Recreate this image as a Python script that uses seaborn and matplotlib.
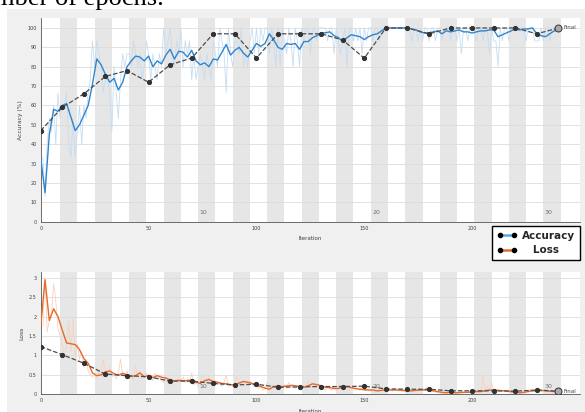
import numpy as np
import matplotlib
matplotlib.use("Agg")
import matplotlib.pyplot as plt
from matplotlib.patches import Rectangle
from matplotlib.lines import Line2D
import seaborn as sns

sns.set_style("white")

# ---- data ----
BATCH = 15
ITERS_PER_EPOCH = 8
N_EPOCHS = 30

# raw mini-batch accuracy, correct out of 15, iterations 1..240
acc_correct = [
    5, 2, 6, 8, 7, 9, 6, 10, 8, 9,
    9, 10, 6, 5, 8, 5, 7, 9, 6, 9,
    8, 10, 11, 14, 12, 14, 13, 12, 10, 11,
    11, 10, 7, 12, 10, 8, 11, 13, 12, 13,
    13, 12, 14, 13, 12, 13, 11, 12, 14, 13,
    11, 13, 12, 11, 13, 12, 15, 13, 14, 15,
    13, 12, 14, 13, 15, 12, 14, 13, 14, 11,
    13, 11, 12, 13, 12, 11, 13, 12, 11, 14,
    13, 12, 15, 14, 13, 10, 15, 13, 12, 14,
    14, 13, 15, 12, 13, 12, 14, 15, 13, 15,
    13, 15, 14, 15, 15, 13, 15, 14, 12, 15,
    12, 15, 14, 13, 15, 14, 12, 15, 14, 12,
    15, 14, 15, 15, 13, 15, 15, 14, 15, 15,
    15, 15, 14, 15, 15, 13, 15, 14, 13, 14,
    15, 12, 15, 15, 14, 15, 14, 15, 13, 15,
    14, 15, 15, 14, 15, 15, 14, 15, 15, 15,
    15, 15, 15, 15, 15, 15, 15, 15, 15, 15,
    15, 14, 15, 15, 14, 15, 14, 15, 15, 14,
    15, 15, 14, 15, 15, 14, 15, 15, 15, 14,
    15, 15, 14, 15, 13, 15, 15, 14, 15, 15,
    15, 14, 15, 15, 14, 15, 15, 13, 15, 14,
    14, 12, 15, 14, 15, 15, 14, 15, 15, 15,
    15, 15, 15, 15, 14, 15, 15, 15, 14, 14,
    14, 15, 14, 15, 15, 14, 15, 15, 15, 15,
]

# smoothed accuracy, every 2 iterations 0..240
acc_smooth = [
    33, 15, 45, 58, 57, 60, 61, 54, 47, 50,
    55, 60, 71, 84, 81, 76, 72, 74, 68, 72,
    80, 83, 85.5, 85, 83, 85.5, 80, 83, 81.5, 86,
    89, 84, 88, 87.5, 85, 88.5, 83, 81, 82, 80,
    84, 83.5, 87.5, 91.5, 86, 88.5, 90, 87, 85, 88.5,
    92, 90.5, 92, 97, 94, 90, 89, 92, 91.5, 92,
    89, 93, 93, 95, 96, 97.5, 97.5, 98, 96, 95,
    93, 95, 96.5, 96, 95.5, 94, 95.5, 96.5, 97, 98.5,
    100, 100, 100, 100, 100, 100, 99.5, 99, 98, 97.4,
    97.5, 98, 98.5, 97, 98.5, 98, 98.5, 99, 98, 98,
    97.4, 98, 98.5, 98.5, 99, 99, 95.5, 96.5, 97.5, 98.5,
    99.5, 99, 99.5, 99.5, 100, 97, 96, 95.5, 97, 98.5,
    99,
]

# validation accuracy every 10 iterations 0..240
acc_val = [47, 59, 66, 75, 78, 72, 81, 84.5, 97, 97,
           84.5, 97, 97, 97, 93.8, 84.4, 100, 100, 97, 100,
           100, 100, 100, 97, 100]

# raw mini-batch loss, iterations 1..240
loss_raw = [
    1.75, 3.0, 1.6, 1.9, 2.1, 2.85, 2.4, 1.7, 1.5, 1.3,
    1.0, 1.2, 1.9, 1.1, 1.95, 1.0, 1.3, 0.9, 1.1, 0.7,
    0.9, 0.6, 0.5, 0.45, 0.5, 0.4, 0.6, 0.5, 0.9, 0.6,
    0.5, 0.7, 0.45, 0.5, 0.4, 0.55, 0.9, 0.5, 0.45, 0.6,
    0.4, 0.5, 0.35, 0.75, 0.45, 0.6, 0.4, 0.5, 0.55, 0.4,
    0.45, 0.35, 0.55, 0.4, 0.45, 0.35, 0.3, 0.45, 0.25, 0.4,
    0.3, 0.35, 0.4, 0.3, 0.35, 0.45, 0.3, 0.4, 0.3, 0.55,
    0.25, 0.3, 0.2, 0.35, 0.5, 0.4, 0.3, 0.45, 0.25, 0.3,
    0.35, 0.25, 0.3, 0.2, 0.3, 0.5, 0.2, 0.25, 0.2, 0.3,
    0.45, 0.3, 0.25, 0.35, 0.3, 0.2, 0.35, 0.25, 0.2, 0.3,
    0.15, 0.2, 0.1, 0.15, 0.3, 0.1, 0.25, 0.2, 0.15, 0.25,
    0.2, 0.15, 0.25, 0.2, 0.3, 0.2, 0.25, 0.15, 0.2, 0.15,
    0.2, 0.25, 0.15, 0.35, 0.3, 0.2, 0.25, 0.2, 0.15, 0.2,
    0.15, 0.1, 0.2, 0.15, 0.1, 0.2, 0.1, 0.15, 0.25, 0.15,
    0.2, 0.15, 0.1, 0.2, 0.15, 0.1, 0.15, 0.1, 0.2, 0.1,
    0.1, 0.15, 0.08, 0.1, 0.06, 0.12, 0.08, 0.15, 0.1, 0.12,
    0.1, 0.12, 0.08, 0.15, 0.1, 0.08, 0.12, 0.06, 0.1, 0.08,
    0.12, 0.08, 0.15, 0.1, 0.12, 0.08, 0.14, 0.1, 0.12, 0.08,
    0.06, 0.08, 0.05, 0.04, 0.06, 0.03, 0.05, 0.04, 0.06, 0.03,
    0.05, 0.04, 0.03, 0.06, 0.04, 0.05, 0.07, 0.04, 0.06, 0.08,
    0.05, 0.1, 0.06, 0.08, 0.46, 0.1, 0.2, 0.08, 0.3, 0.1,
    0.08, 0.12, 0.07, 0.1, 0.06, 0.08, 0.05, 0.04, 0.06, 0.04,
    0.03, 0.05, 0.04, 0.07, 0.1, 0.08, 0.12, 0.06, 0.1, 0.08,
    0.12, 0.08, 0.1, 0.07, 0.09, 0.06, 0.08, 0.07, 0.06, 0.07,
]

# smoothed loss, every 2 iterations 0..240
loss_smooth = [
    1.75, 2.95, 1.9, 2.2, 2.0, 1.65, 1.32, 1.3, 1.28, 1.15,
    0.92, 0.8, 0.55, 0.48, 0.5, 0.58, 0.6, 0.53, 0.49, 0.54,
    0.5, 0.46, 0.48, 0.55, 0.45, 0.49, 0.43, 0.48, 0.44, 0.42,
    0.37, 0.34, 0.36, 0.35, 0.35, 0.37, 0.31, 0.28, 0.35, 0.38,
    0.33, 0.31, 0.28, 0.27, 0.25, 0.24, 0.29, 0.33, 0.31, 0.28,
    0.24, 0.2, 0.16, 0.13, 0.2, 0.21, 0.2, 0.21, 0.23, 0.22,
    0.2, 0.18, 0.22, 0.27, 0.25, 0.22, 0.18, 0.17, 0.15, 0.15,
    0.18, 0.2, 0.17, 0.15, 0.13, 0.12, 0.11, 0.11, 0.09, 0.1,
    0.12, 0.11, 0.11, 0.11, 0.1, 0.09, 0.09, 0.1, 0.11, 0.11,
    0.11, 0.09, 0.07, 0.05, 0.04, 0.05, 0.04, 0.04, 0.05, 0.05,
    0.06, 0.07, 0.07, 0.09, 0.11, 0.11, 0.1, 0.09, 0.09, 0.07,
    0.05, 0.04, 0.05, 0.07, 0.09, 0.09, 0.1, 0.09, 0.08, 0.07,
    0.07,
]

# validation loss every 10 iterations 0..240
loss_val = [1.23, 1.02, 0.8, 0.52, 0.48, 0.45, 0.34, 0.34, 0.28, 0.24,
            0.26, 0.18, 0.19, 0.2, 0.2, 0.21, 0.14, 0.13, 0.13, 0.09,
            0.09, 0.09, 0.08, 0.11, 0.08]

raw_it = np.arange(1, 241)
smooth_it = np.arange(0, 241, 2)
val_it = np.arange(0, 241, 10)
acc_raw = np.array(acc_correct) / BATCH * 100

BLUE = "#2f86cf"
BLUE_L = "#c6ddf1"
ORANGE = "#e46a2e"
ORANGE_L = "#f8d3c0"
BAND = "#e6e6e6"

fig = plt.figure(figsize=(5.85, 4.12), dpi=100, facecolor="white")
fig.patches.append(Rectangle((7 / 585, 0), 1, 1 - 9 / 412, transform=fig.transFigure,
                             facecolor="#f0f0f0", edgecolor="none", zorder=-5))
fig.text(-6 / 585, 1 - 5 / 412, "mber of epochs.", family="Liberation Serif",
         fontsize=19, va="baseline", ha="left", color="black")

W = (580 - 40.7) / 585
ax1 = fig.add_axes([40.7 / 585, 1 - 221.7 / 412, W, (221.7 - 18.3) / 412])
ax2 = fig.add_axes([40.7 / 585, 1 - 394.3 / 412, W, (394.3 - 272.3) / 412])


def dress(ax, ymax, yticks, ylabel, epoch_y):
    ax.set_facecolor("white")
    ax.set_xlim(0, 250)
    ax.set_ylim(0, ymax)
    for e in range(2, N_EPOCHS + 1, 2):
        ax.axvspan((e - 1) * ITERS_PER_EPOCH + 1, e * ITERS_PER_EPOCH + 1,
                   color=BAND, lw=0, zorder=0)
    for y in yticks[1:]:
        ax.axhline(y, color="#dcdcdc", lw=0.6, zorder=0.5)
    for e in (10, 20, 30):
        ax.text(e * ITERS_PER_EPOCH - 4.5, epoch_y, str(e), fontsize=4.5,
                color="#707070", ha="center", va="center", zorder=1)
    ax.set_xticks([0, 50, 100, 150, 200])
    ax.set_yticks(yticks)
    ax.set_yticklabels([("%g" % t) for t in yticks])
    ax.tick_params(direction="in", length=2, width=0.5, labelsize=3.5,
                   colors="#404040", pad=3)
    for s in ("top", "right"):
        ax.spines[s].set_visible(False)
    for s in ("left", "bottom"):
        ax.spines[s].set_color("#555555")
        ax.spines[s].set_linewidth(0.6)
    ax.set_xlabel("Iteration", fontsize=4, color="#404040", labelpad=4)
    ax.set_ylabel(ylabel, fontsize=4.3, color="#404040", labelpad=3)
    ax.grid(False)


dress(ax1, 105, list(range(0, 101, 10)), "Accuracy (%)", 4.5)
dress(ax2, 3.14, [0, 0.5, 1, 1.5, 2, 2.5, 3], "Loss", 0.2)

# accuracy
sns.lineplot(x=raw_it, y=acc_raw, ax=ax1, color=BLUE_L, lw=0.6, zorder=2)
sns.lineplot(x=smooth_it, y=acc_smooth, ax=ax1, color=BLUE, lw=1.0, zorder=3)
sns.lineplot(x=val_it, y=acc_val, ax=ax1, color="#4d4d4d", lw=0.9,
             linestyle="--", marker="o", markersize=3, markerfacecolor="#333333",
             markeredgecolor="#333333", zorder=4)
ax1.plot([val_it[-1]], [acc_val[-1]], "o", ms=5, mfc="#aaaaaa", mec="#333333",
         mew=0.7, zorder=5)
ax1.text(val_it[-1] + 2.5, acc_val[-1], "Final", fontsize=4, color="#404040",
         va="center", ha="left", zorder=5, clip_on=False)

# loss
sns.lineplot(x=raw_it, y=loss_raw, ax=ax2, color=ORANGE_L, lw=0.6, zorder=2)
sns.lineplot(x=smooth_it, y=loss_smooth, ax=ax2, color=ORANGE, lw=1.0, zorder=3)
sns.lineplot(x=val_it, y=loss_val, ax=ax2, color="#4d4d4d", lw=0.9,
             linestyle="--", marker="o", markersize=3, markerfacecolor="#333333",
             markeredgecolor="#333333", zorder=4)
ax2.plot([val_it[-1]], [loss_val[-1]], "o", ms=5, mfc="#aaaaaa", mec="#333333",
         mew=0.7, zorder=5)
ax2.text(val_it[-1] + 2.5, loss_val[-1] - 0.02, "Final", fontsize=4, color="#404040",
         va="center", ha="left", zorder=5, clip_on=False)

for ax in (ax1, ax2):
    if ax.get_legend() is not None:
        ax.get_legend().remove()

handles = [
    Line2D([0, 1], [0, 0], color="#5aa5e0", lw=1.8, marker="o", ms=3,
           mfc="black", mec="black"),
    Line2D([0, 1], [0, 0], color=ORANGE, lw=1.8, marker="o", ms=3,
           mfc="black", mec="black"),
]
leg = fig.legend(handles, ["Accuracy", "   Loss"], loc="upper right",
                 bbox_to_anchor=(580 / 585, 1 - 226 / 412), numpoints=2,
                 frameon=True, fancybox=False, framealpha=1, edgecolor="black",
                 borderaxespad=0, borderpad=0.45, handlelength=2.0,
                 handletextpad=0.45, labelspacing=0.45,
                 prop={"family": ["Liberation Sans Narrow", "DejaVu Sans"],
                       "weight": "bold", "size": 7.5})
leg.get_frame().set_linewidth(1.0)

fig.savefig("out.png", dpi=100, facecolor="white")
